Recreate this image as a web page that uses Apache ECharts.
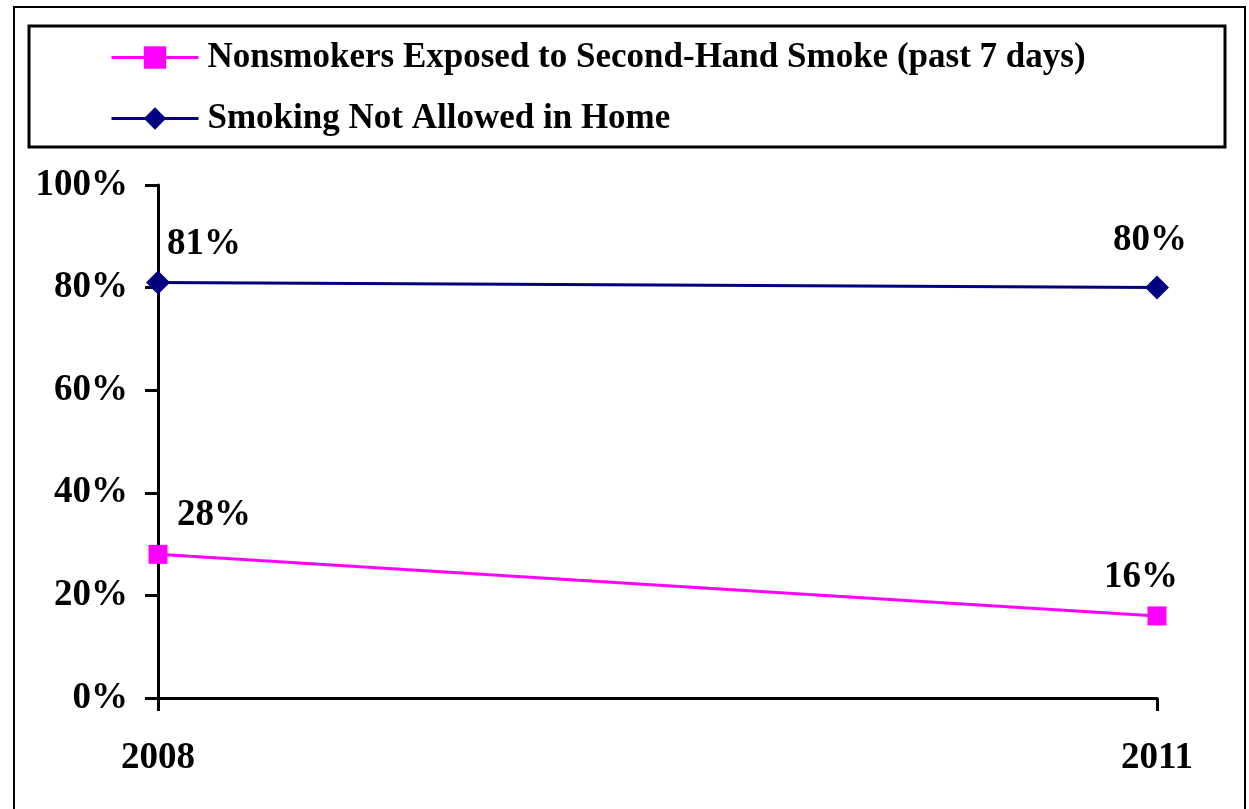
<!DOCTYPE html>
<html lang="en">
<head>
    <meta charset="UTF-8">
    <title>Second-hand smoke</title>
    <script src="https://cdn.jsdelivr.net/npm/echarts@6/dist/echarts.min.js"></script>
    <style>
        html, body { margin: 0; padding: 0; background: #fff; }
        #chart { width: 1249px; height: 809px; }
    </style>
</head>
<body>
    <div id="chart"></div>
</body>
<script type="text/javascript">
    var years = ['2008', '2011'];
    var exposedName = 'Nonsmokers Exposed to Second-Hand Smoke (past 7 days)';
    var exposedData = [28, 16];
    var homeName = 'Smoking Not Allowed in Home';
    var homeData = [81, 80];
    var yTicks = [0, 20, 40, 60, 80, 100];

    var font = '"Liberation Serif", "Times New Roman", serif';

    // label offsets per point (styling only)
    var homeOffsets = [[46, 12], [-7, 3]];
    var exposedOffsets = [[56, 9], [-16, 10]];

    function withLabels(values, offsets) {
        return values.map(function (v, i) {
            return {value: v, label: {offset: offsets[i]}};
        });
    }

    var chart = echarts.init(document.getElementById('chart'));
    var option = {
        animation: false,
        backgroundColor: '#fff',
        textStyle: {fontFamily: font},
        graphic: [
            {
                type: 'rect',
                shape: {x: 14, y: 7, width: 1231, height: 820},
                style: {fill: 'none', stroke: '#000', lineWidth: 2}
            },
            {
                type: 'rect',
                shape: {x: 29, y: 26, width: 1196, height: 121},
                style: {fill: 'none', stroke: '#000', lineWidth: 3}
            }
        ],
        legend: {
            orient: 'vertical',
            left: 110,
            top: 40,
            padding: 0,
            itemWidth: 87,
            itemHeight: 28,
            itemGap: 26,
            lineStyle: {width: 3},
            textStyle: {
                fontFamily: font,
                fontWeight: 'bold',
                fontSize: 35,
                color: '#000',
                padding: [0, 0, 0, 4]
            },
            data: [exposedName, homeName]
        },
        grid: {
            left: 158,
            right: 92,
            top: 185,
            bottom: 111
        },
        xAxis: {
            type: 'category',
            data: years,
            boundaryGap: false,
            axisLine: {lineStyle: {color: '#000', width: 3}},
            axisTick: {show: true, length: 13, lineStyle: {color: '#000', width: 3}},
            axisLabel: {
                margin: 42,
                color: '#000',
                fontFamily: font,
                fontWeight: 'bold',
                fontSize: 37
            },
            splitLine: {show: false}
        },
        yAxis: {
            type: 'value',
            min: yTicks[0],
            max: yTicks[yTicks.length - 1],
            interval: 20,
            axisLine: {show: true, lineStyle: {color: '#000', width: 3}},
            axisTick: {show: true, length: 13, lineStyle: {color: '#000', width: 3}},
            axisLabel: {
                margin: 30,
                color: '#000',
                fontFamily: font,
                fontWeight: 'bold',
                fontSize: 37,
                formatter: '{value}%'
            },
            splitLine: {show: false}
        },
        series: [
            {
                name: exposedName,
                type: 'line',
                data: withLabels(exposedData, exposedOffsets),
                symbol: 'rect',
                symbolSize: 19,
                color: '#FF00FF',
                lineStyle: {color: '#FF00FF', width: 3},
                itemStyle: {color: '#FF00FF'},
                label: {
                    show: true,
                    position: 'top',
                    distance: 20,
                    formatter: '{c}%',
                    color: '#000',
                    fontFamily: font,
                    fontWeight: 'bold',
                    fontSize: 37
                }
            },
            {
                name: homeName,
                type: 'line',
                data: withLabels(homeData, homeOffsets),
                symbol: 'diamond',
                symbolSize: 24,
                color: '#000080',
                lineStyle: {color: '#000080', width: 3},
                itemStyle: {color: '#000080'},
                label: {
                    show: true,
                    position: 'top',
                    distance: 20,
                    formatter: '{c}%',
                    color: '#000',
                    fontFamily: font,
                    fontWeight: 'bold',
                    fontSize: 37
                }
            }
        ]
    };
    chart.setOption(option);
    window.addEventListener('resize', function () {
        chart.resize();
    });
</script>
</html>
